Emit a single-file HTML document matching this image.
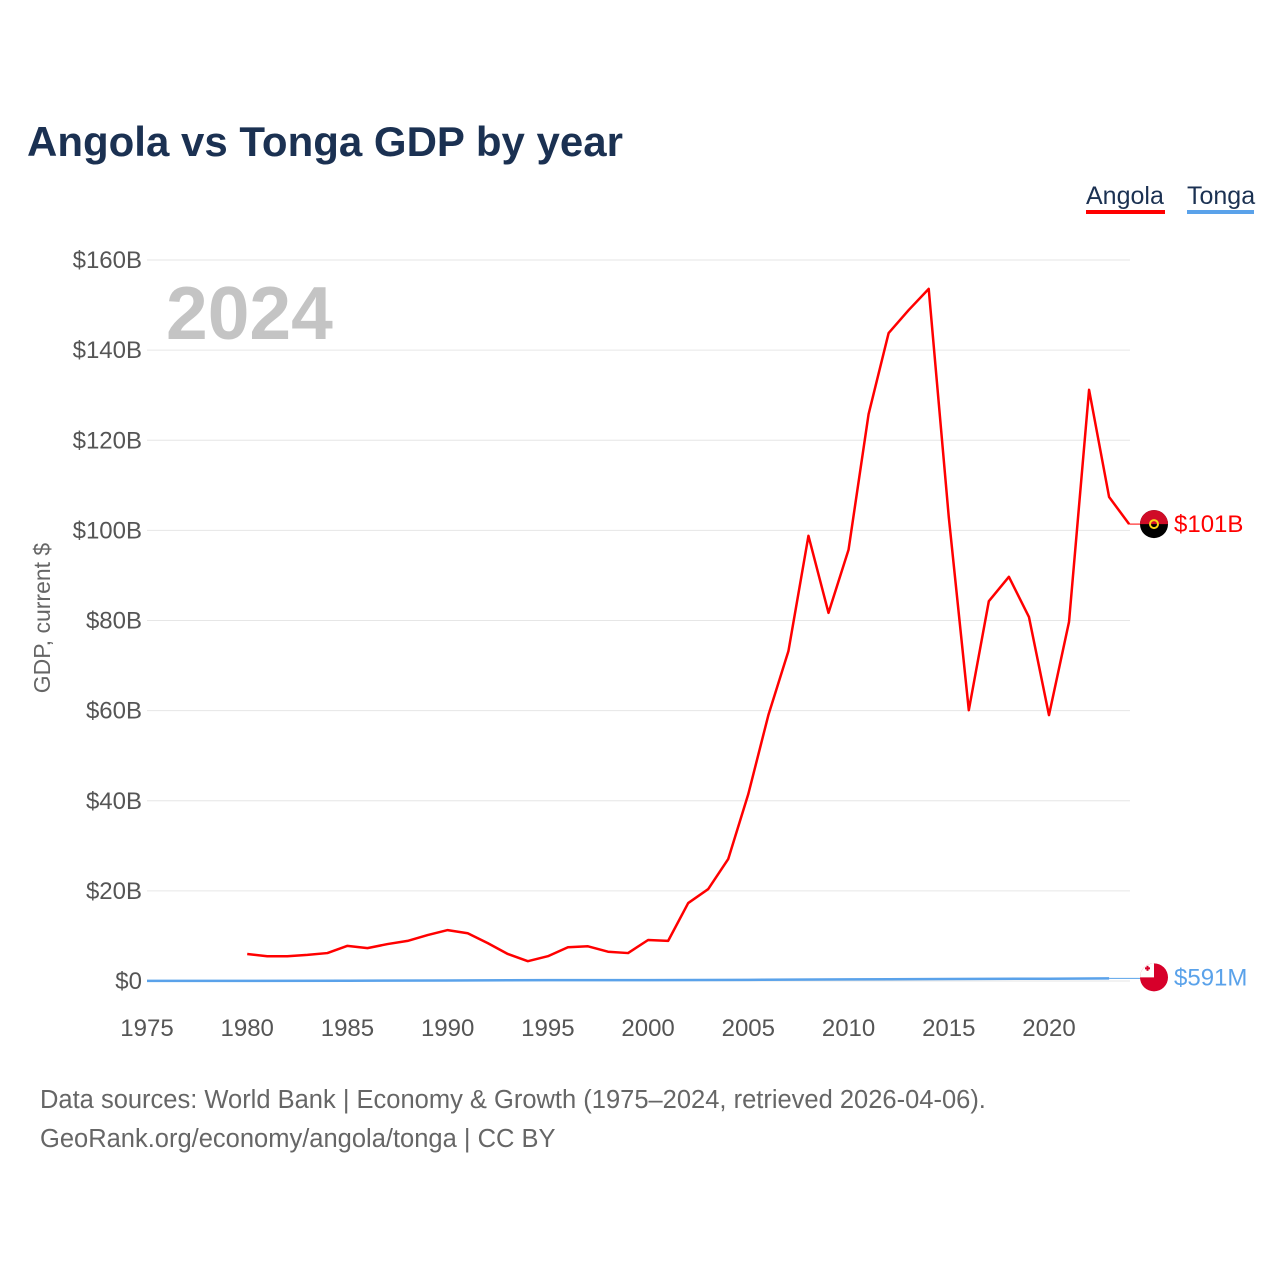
<!DOCTYPE html>
<html><head><meta charset="utf-8"><style>
body{margin:0;background:#fff;width:1280px;height:1280px;overflow:hidden;font-family:"Liberation Sans",sans-serif}
</style></head><body>
<svg id="chart" width="1280" height="1280" xmlns="http://www.w3.org/2000/svg">
<text x="27" y="156" font-size="42" font-weight="bold" fill="#1b3152">Angola vs Tonga GDP by year</text>
<g>
<text x="1086" y="204" font-size="25" fill="#1b3152">Angola</text>
<rect x="1086" y="210" width="79" height="4" fill="#ff0000"/>
<text x="1187" y="204" font-size="25" fill="#1b3152">Tonga</text>
<rect x="1187" y="210" width="67" height="4" fill="#5aa2ea"/>
</g>
<text x="166" y="339" font-size="75" font-weight="bold" fill="#c4c4c4">2024</text>
<text transform="translate(50,618) rotate(-90)" text-anchor="middle" font-size="23" fill="#666">GDP, current $</text>
<g id="grid"></g><g id="yt"></g><g id="xt"></g><g id="series"></g>
<text x="40" y="1108" font-size="25.5" fill="#666">Data sources: World Bank | Economy &amp; Growth (1975–2024, retrieved 2026-04-06).</text>
<text x="40" y="1147" font-size="25.5" fill="#666">GeoRank.org/economy/angola/tonga | CC BY</text>
</svg>
<script>
const yTicks=[0,20,40,60,80,100,120,140,160];
const yTickLabels=["$0","$20B","$40B","$60B","$80B","$100B","$120B","$140B","$160B"];
const xTicks=[1975,1980,1985,1990,1995,2000,2005,2010,2015,2020];
const angolaYears=[1980,1981,1982,1983,1984,1985,1986,1987,1988,1989,1990,1991,1992,1993,1994,1995,1996,1997,1998,1999,2000,2001,2002,2003,2004,2005,2006,2007,2008,2009,2010,2011,2012,2013,2014,2015,2016,2017,2018,2019,2020,2021,2022,2023,2024];
const angolaGdp=[6.0,5.5,5.5,5.8,6.2,7.8,7.3,8.2,8.9,10.2,11.3,10.6,8.4,6.0,4.4,5.5,7.5,7.7,6.5,6.2,9.1,8.9,17.3,20.4,27.1,41.5,59.0,73.2,98.8,81.7,95.7,125.8,143.8,148.9,153.6,103,60.1,84.3,89.7,80.8,59.0,79.7,131.2,107.4,101.4];
const tongaYears=[1975,1980,1985,1990,1995,2000,2005,2010,2015,2020,2023];
const tongaGdp=[0.03,0.04,0.06,0.11,0.2,0.2,0.26,0.37,0.44,0.51,0.591];
const ns="http://www.w3.org/2000/svg";
const X=y=>147+(y-1975)*20.044;
const Y=v=>981-v*4.506;
function mk(t,a,p){const e=document.createElementNS(ns,t);for(const k in a)e.setAttribute(k,a[k]);p.appendChild(e);return e;}
const g=document.getElementById('grid'),yt=document.getElementById('yt'),xt=document.getElementById('xt'),s=document.getElementById('series');
yTicks.forEach((v,i)=>{
 const l=mk('line',{x1:147,x2:1130,y1:Y(v),y2:Y(v),stroke:'#e6e6e6','stroke-width':1},g);
 
 
 const t=mk('text',{x:142,y:Y(v)+8,'text-anchor':'end','font-size':24,fill:'#555'},yt);
 t.textContent=yTickLabels[i];
 
 
});
xTicks.forEach(v=>{
 const t=mk('text',{x:X(v),y:1036,'text-anchor':'middle','font-size':24,fill:'#555'},xt);
 t.textContent=v;
 
 
});
const tp=mk('polyline',{points:tongaYears.map((y,i)=>X(y)+','+Y(tongaGdp[i])).join(' '),fill:'none',stroke:'#5aa2ea','stroke-width':2.5},s);


const ap=mk('polyline',{points:angolaYears.map((y,i)=>X(y)+','+Y(angolaGdp[i])).join(' '),fill:'none',stroke:'#ff0000','stroke-width':2.5,'stroke-linejoin':'round'},s);


const aL=angolaGdp[angolaGdp.length-1],tL=tongaGdp[tongaGdp.length-1];
mk('line',{x1:X(2024),x2:1142,y1:Y(aL),y2:Y(aL),stroke:'#ff0000','stroke-width':1},s);
mk('line',{x1:X(2023),x2:1142,y1:Y(tL),y2:Y(tL),stroke:'#5aa2ea','stroke-width':1},s);
const ay=Y(aL);
const af=mk('g',{},s);


mk('circle',{cx:1154,cy:ay,r:14,fill:'#000'},af);
mk('path',{d:`M1140 ${ay} A14 14 0 0 1 1168 ${ay} Z`,fill:'#d00c27'},af);
mk('circle',{cx:1154,cy:ay,r:4,fill:'none',stroke:'#f9d616','stroke-width':2},af);
const at=mk('text',{x:1174,y:ay+8,'font-size':24,fill:'#ff0000'},s);
at.textContent='$'+Math.round(aL)+'B';


const ty=Y(tL)-1;
const tf=mk('g',{},s);


mk('circle',{cx:1154,cy:ty,r:14,fill:'#d7002a'},tf);
mk('path',{d:`M1140 ${ty} A14 14 0 0 1 1154 ${ty-14} L1154 ${ty} Z`,fill:'#fff'},tf);
mk('rect',{x:1145,y:ty-10,width:5,height:2,fill:'#d7002a'},tf);
mk('rect',{x:1146.5,y:ty-11.5,width:2,height:5,fill:'#d7002a'},tf);
const tt=mk('text',{x:1174,y:ty+8,'font-size':24,fill:'#5aa2ea'},s);
tt.textContent='$'+Math.round(tL*1000)+'M';


</script>
</body></html>
